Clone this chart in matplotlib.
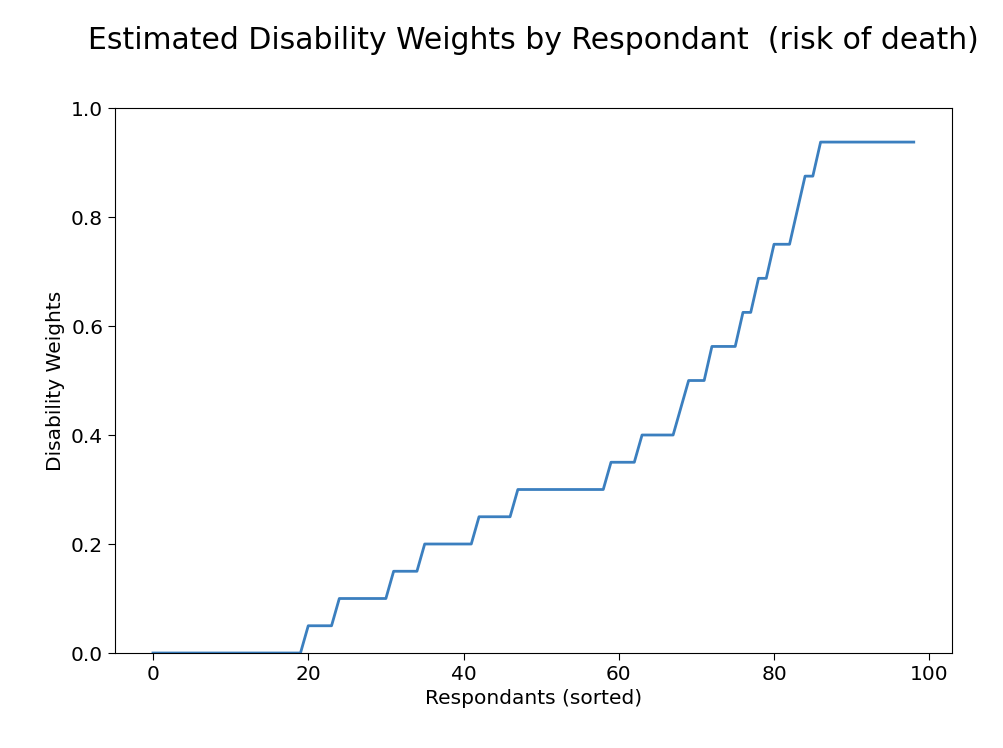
import matplotlib
matplotlib.use("Agg")
import matplotlib.pyplot as plt
import numpy as np

# sorted disability weights, one per respondant
weights = [
    0, 0, 0, 0, 0, 0, 0, 0, 0, 0, 0, 0, 0, 0, 0, 0, 0, 0, 0, 0,
    0.05, 0.05, 0.05, 0.05,
    0.1, 0.1, 0.1, 0.1, 0.1, 0.1, 0.1,
    0.15, 0.15, 0.15, 0.15,
    0.2, 0.2, 0.2, 0.2, 0.2, 0.2, 0.2,
    0.25, 0.25, 0.25, 0.25, 0.25,
    0.3, 0.3, 0.3, 0.3, 0.3, 0.3, 0.3, 0.3, 0.3, 0.3, 0.3, 0.3,
    0.35, 0.35, 0.35, 0.35,
    0.4, 0.4, 0.4, 0.4, 0.4,
    0.45,
    0.5, 0.5, 0.5,
    0.5625, 0.5625, 0.5625, 0.5625,
    0.625, 0.625,
    0.6875, 0.6875,
    0.75, 0.75, 0.75,
    0.8125,
    0.875, 0.875,
    0.9375, 0.9375, 0.9375, 0.9375, 0.9375, 0.9375, 0.9375,
    0.9375, 0.9375, 0.9375, 0.9375, 0.9375, 0.9375,
]
respondants = np.arange(len(weights))

fig = plt.figure(figsize=(10.04, 7.48), dpi=100)
ax = fig.add_axes([0.1145, 0.127, 0.8335, 0.7286])
ax.plot(respondants, weights, color="#3b7fbf", linewidth=2)

ax.set_ylim(0, 1.0)
ax.set_xlim(-4.9, 102.9)
ax.set_xticks([0, 20, 40, 60, 80, 100])
ax.set_yticks([0.0, 0.2, 0.4, 0.6, 0.8, 1.0])
ax.tick_params(labelsize=14.5, length=5)
ax.set_xlabel("Respondants (sorted)", fontsize=14.5)
ax.set_ylabel("Disability Weights", fontsize=14.5)
fig.suptitle("Estimated Disability Weights by Respondant  (risk of death)",
             fontsize=21.5, x=0.531, y=0.965)

plt.savefig("out.png", dpi=100)
